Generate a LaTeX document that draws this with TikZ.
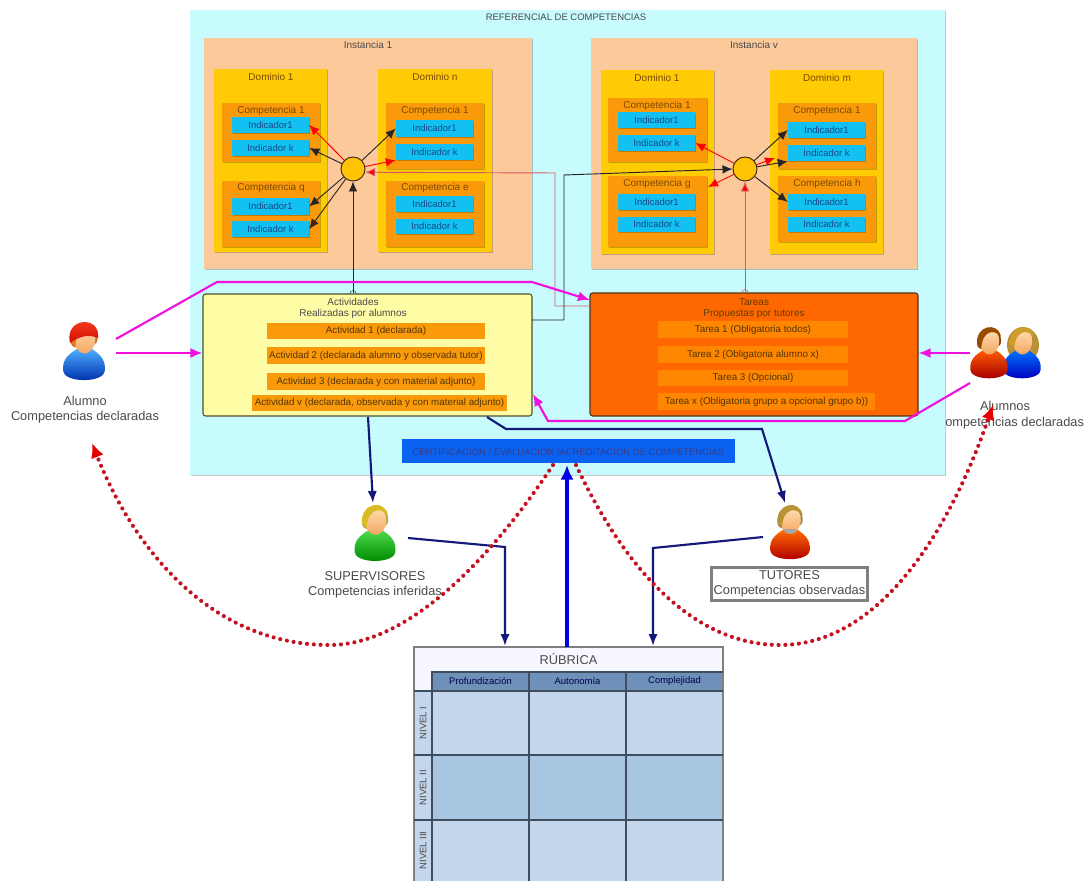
\documentclass[tikz,border=0pt]{standalone}
\usepackage{fontspec}
\setmainfont{Liberation Sans}
\usetikzlibrary{arrows.meta,calc,positioning}
\definecolor{cyanpanel}{HTML}{C8FBFD}
\definecolor{peach}{HTML}{FCC99B}
\definecolor{dominio}{HTML}{FFCB05}
\definecolor{compet}{HTML}{FA9A0A}
\definecolor{indic}{HTML}{12C0F2}
\definecolor{actbg}{HTML}{FFFCA6}
\definecolor{tarbg}{HTML}{FF6800}
\definecolor{cert}{HTML}{0A62F0}
\definecolor{magen}{HTML}{F010E0}
\definecolor{navyline}{HTML}{12197A}
\definecolor{rojopunto}{HTML}{C4101F}
\definecolor{redline}{HTML}{D85A5F}
\definecolor{txtgray}{HTML}{4A4A4A}
\definecolor{txtbrown}{HTML}{7A4B00}
\definecolor{txtblue}{HTML}{174A86}
\definecolor{hdrblue}{HTML}{6F90B8}
\definecolor{celllt}{HTML}{C4D6EC}
\definecolor{celldk}{HTML}{A9C6E0}
\definecolor{faceT}{HTML}{FFDCB0}
\definecolor{faceB}{HTML}{F4A662}
\definecolor{gridc}{HTML}{3E4E5E}
\newcommand\szI{\fontsize{7.1}{8.4}\selectfont}
\newcommand\szA{\fontsize{7.35}{8.6}\selectfont}
\newcommand\szB{\fontsize{7.5}{8.8}\selectfont}
\newcommand\szC{\fontsize{9.6}{11.4}\selectfont}
\tikzset{
  softshadow/.style={preaction={draw=none,fill=black,fill opacity=.22,transform canvas={xshift=.9pt,yshift=-.9pt}}},
  box/.style={rectangle,inner sep=0pt,align=center},
  panelbox/.style={box,fill=cyanpanel,softshadow},
  instbox/.style={box,fill=peach,softshadow},
  dombox/.style={box,fill=dominio,softshadow},
  compbox/.style={box,fill=compet,softshadow},
  indbox/.style={box,fill=indic,text=txtblue,font=\szI,softshadow},
  itembox/.style={box,fill=compet,text=txtbrown!70!black,font=\szA},
  hubdot/.style={circle,draw=black!70!brown,line width=.7pt,fill=dominio!90!orange,minimum size=18pt,inner sep=0pt},
  ttl/.style={inner sep=0pt,font=\szB,text=txtgray,align=center},
  ttlb/.style={inner sep=0pt,font=\szB,text=txtbrown},
  ppl/.style={inner sep=0pt,font=\szC,text=txtgray,align=center},
  blk/.style={-{Latex[length=7.5pt,width=6.5pt]},black!85,line width=.7pt},
  rd/.style={-{Latex[length=7.5pt,width=6.5pt]},draw=redline,line width=.7pt},
  mg/.style={-{Latex[length=9pt,width=7.5pt]},magen,line width=1.6pt},
  nv/.style={-{Latex[length=9pt,width=7pt]},navyline,line width=1.6pt},
  dots/.style={-{Latex[length=11pt,width=10pt,fill=red!90!black,color=red!90!black]},rojopunto,line width=3.1pt,line cap=round,dash pattern=on 0pt off 5.1pt},
  gridln/.style={draw=gridc,line width=.8pt},
}
% name x1 y1 x2 y2 style text
\newcommand\bx[7]{\node[#6,minimum width={(#4-#2)*0.75pt},minimum height={(#5-#3)*0.75pt}] (#1) at ({(#2+#4)/2},{(#3+#5)/2}) {#7};}
% name, x, top y, scale, body top colour, body bottom colour, hair colour
\newcommand\person[7]{%
 \begin{scope}[shift={(#2,#3)},scale=#4]
  \coordinate (#1) at (0,28);
  \fill[#7!85!black] (-13.5,20) .. controls (-18,-6) and (16,-8) .. (14,16) .. controls (14,24) and (-11,28) .. (-13.5,20) -- cycle;
  \shade[top color=#5,bottom color=#6] (-22,48) .. controls (-23,35) and (-15,30) .. (-7,25) -- (8,25) .. controls (15,30) and (23,35) .. (22,48) .. controls (22,53) and (14,58) .. (0,58) .. controls (-14,58) and (-22,53) .. (-22,48) -- cycle;
  \shade[top color=faceT,bottom color=faceB] (1,1) .. controls (9,1) and (12.5,8) .. (12,15) .. controls (11.5,24) and (6,30) .. (1,30) .. controls (-5,30) and (-10.5,24) .. (-11,15) .. controls (-11.5,8) and (-6,1) .. (1,1) -- cycle;
  \fill[#7] (-14,18) .. controls (-16,-5) and (11,-9) .. (14,9) .. controls (10,4) and (3,2) .. (-1,5) .. controls (-4,7) and (-8,10) .. (-9,22) -- cycle;
 \end{scope}}
\begin{document}
\begin{tikzpicture}[x=0.75pt,y=-0.75pt]
\useasboundingbox (0,0) rectangle (1085,881);
\fill[white] (0,0) rectangle (1085,881);
% main panel
\bx{ref}{190}{10}{945}{475}{panelbox}{}
\node[ttl,font=\szI] (reft) at (566,17) {REFERENCIAL DE COMPETENCIAS};
% instancia 1
\bx{ia}{204}{38}{532}{269}{instbox}{}
\node[ttl] (iat) at (368,45) {Instancia 1};
\bx{da}{214}{69}{327}{252}{dombox}{}
\node[ttlb] (dat) at (271,77) {Dominio 1};
\bx{dn}{378}{69}{492}{252}{dombox}{}
\node[ttlb] (dnt) at (435,77) {Dominio n};
\bx{ca}{222}{103}{320}{162}{compbox}{}
\node[ttlb] (cat) at (271,111) {Competencia 1};
\bx{caa}{232}{117}{309}{133}{indbox}{Indicador1}
\bx{cak}{232}{140}{309}{156}{indbox}{Indicador k}
\bx{cq}{222}{181}{320}{247}{compbox}{}
\node[ttlb] (cqt) at (271,188) {Competencia q};
\bx{cqa}{232}{198}{309}{215}{indbox}{Indicador1}
\bx{cqk}{232}{221}{309}{237}{indbox}{Indicador k}
\bx{cn}{386}{103}{484}{169}{compbox}{}
\node[ttlb] (cnt) at (435,111) {Competencia 1};
\bx{cna}{396}{120}{473}{137}{indbox}{Indicador1}
\bx{cnk}{396}{144}{473}{160}{indbox}{Indicador k}
\bx{ce}{386}{181}{484}{247}{compbox}{}
\node[ttlb] (cet) at (435,188) {Competencia e};
\bx{cea}{396}{196}{473}{212}{indbox}{Indicador1}
\bx{cek}{396}{219}{473}{234}{indbox}{Indicador k}
% instancia v
\bx{iv}{591}{38}{917}{269}{instbox}{}
\node[ttl] (ivt) at (754,45) {Instancia v};
\bx{dv}{601}{70}{714}{254}{dombox}{}
\node[ttlb] (dvt) at (657,78) {Dominio 1};
\bx{dm}{770}{70}{883}{254}{dombox}{}
\node[ttlb] (dmt) at (827,78) {Dominio m};
\bx{va}{608}{98}{707}{162}{compbox}{}
\node[ttlb] (vat) at (657,106) {Competencia 1};
\bx{vaa}{618}{112}{695}{128}{indbox}{Indicador1}
\bx{vak}{618}{135}{695}{151}{indbox}{Indicador k}
\bx{vg}{608}{176}{707}{247}{compbox}{}
\node[ttlb] (vgt) at (657,184) {Competencia g};
\bx{vga}{618}{194}{695}{210}{indbox}{Indicador1}
\bx{vgk}{618}{217}{695}{232}{indbox}{Indicador k}
\bx{vm}{778}{103}{876}{169}{compbox}{}
\node[ttlb] (vmt) at (827,111) {Competencia 1};
\bx{vma}{788}{122}{865}{138}{indbox}{Indicador1}
\bx{vmk}{788}{145}{865}{161}{indbox}{Indicador k}
\bx{vh}{778}{176}{876}{242}{compbox}{}
\node[ttlb] (vht) at (827,184) {Competencia h};
\bx{vha}{788}{194}{865}{210}{indbox}{Indicador1}
\bx{vhk}{788}{217}{865}{232}{indbox}{Indicador k}
% hubs
\node[hubdot] (hubA) at (353,169) {};
\node[hubdot] (hubB) at (745,169) {};
% activity and task boxes
\node[box,draw=black!55!olive,line width=.8pt,fill=actbg,rounded corners=2pt,minimum width={329*0.75pt},minimum height={122*0.75pt}] (act) at (367.5,355) {};
\node[ttl] (actt) at (353,308.5) {Actividades\\[-1pt]Realizadas por alumnos};
\node[box,draw=black!60!brown,line width=.8pt,fill=tarbg,rounded corners=2pt,minimum width={328*0.75pt},minimum height={123*0.75pt}] (tar) at (754,354.5) {};
\node[ttl,text=txtbrown!80!black] (tart) at (754,308.5) {Tareas\\[-1pt]Propuestas por tutores};
\bx{a1}{267}{323}{485}{339}{itembox}{Actividad 1 (declarada)}
\bx{a2}{267}{347}{485}{364}{itembox}{Actividad 2 (declarada alumno y observada tutor)}
\bx{a3}{267}{373}{485}{390}{itembox}{Actividad 3 (declarada y con material adjunto)}
\bx{a4}{252}{395}{507}{411}{itembox}{Actividad v (declarada, observada y con material adjunto)}
\tikzset{tarit/.style={box,fill=orange!95!yellow,text=txtbrown!70!black,font=\szA}}
\bx{t1}{658}{321}{848}{338}{tarit}{Tarea 1 (Obligatoria todos)}
\bx{t2}{658}{346}{848}{363}{tarit}{Tarea 2 (Obligatoria alumno x)}
\bx{t3}{658}{370}{848}{386}{tarit}{Tarea 3 (Opcional)}
\bx{t4}{658}{393}{875}{410}{tarit}{Tarea x (Obligatoria grupo a opcional grupo b))}
\bx{cer}{402}{439}{735}{463}{box,fill=cert,text=navyline!85!white,font=\szI}{CERTIFICACIÓN / EVALUACIÓN /ACREDITACIÓN DE COMPETENCIAS}
% rubrica
\fill[white!90!blue!30] (414,647) rectangle (723,691);
\bx{rub}{414}{647}{723}{672}{box,font=\szC,text=txtgray}{RÚBRICA}
\bx{h1}{432}{672}{529}{691}{box,fill=hdrblue,font=\szI,text=black!70!blue}{Profundización}
\bx{h2}{529}{672}{626}{691}{box,fill=hdrblue,font=\szI,text=black!70!blue}{Autonomía}
\bx{h3}{626}{672}{723}{691}{box,fill=hdrblue,font=\szI,text=black!70!blue}{Complejidad}
\bx{r1}{414}{691}{432}{755}{box,fill=celllt}{}
\bx{r2}{414}{755}{432}{820}{box,fill=celllt}{}
\bx{r3}{414}{820}{432}{881}{box,fill=celllt}{}
\node[ttl,font=\szI,rotate=90] (r1t) at (r1) {NIVEL I};
\node[ttl,font=\szI,rotate=90] (r2t) at (r2) {NIVEL II};
\node[ttl,font=\szI,rotate=90] (r3t) at (r3) {NIVEL III};
\foreach \cx/\cxb/\nm in {432/529/a,529/626/b,626/723/c}{
  \fill[celllt] (\cx,691) rectangle (\cxb,755);
  \fill[celldk] (\cx,755) rectangle (\cxb,820);
  \fill[celllt] (\cx,820) rectangle (\cxb,881);
}
\draw[gridln,black!50] (414,881) -- (414,647) -- (723,647) -- (723,881);
\draw[gridln] (432,881) -- (432,672) -- (723,672);
\draw[gridln] (414,691) -- (723,691) (414,755) -- (723,755) (414,820) -- (723,820);
\draw[gridln] (529,672) -- (529,881) (626,672) -- (626,881);
% people
\person{alumnoIcon}{84}{325}{.95}{blue!45!cyan!70!white}{blue!60!black!80!cyan}{orange!60!brown}
\shade[top color=red!70!orange!85!white,bottom color=red!80!black!90!orange] (70,343) .. controls (64,317) and (101,315) .. (98,338) .. controls (88,334) and (80,336) .. (70,343) -- cycle;
\person{supIcon}{375}{507}{.93}{green!65!white!85!black}{green!55!black}{yellow!70!orange!85!black}
\person{tutIcon}{790}{507}{.9}{orange!85!red}{red!70!black}{yellow!45!orange!70!black}
\fill[black!35!white] (784,531) .. controls (787,535) and (793,535) .. (796,531) -- (796,529) -- (784,529) -- cycle;
\fill[yellow!40!orange!70!black] (1023,345) ellipse [x radius=16,y radius=18];
\person{aliceIcon}{1022}{329}{.85}{blue!55!cyan}{blue!75!black}{yellow!40!orange!80!black}
\person{bobIcon}{989}{329}{.85}{orange!70!red}{red!65!black}{orange!60!black}
\node[ppl] (alumnoT) at (85,410) {Alumno\\Competencias declaradas};
\node[ppl] (supT) at (375,585) {SUPERVISORES\\Competencias inferidas};
\node[ppl,draw=black!50,line width=1.7pt,minimum width={156*0.75pt},minimum height={33*0.75pt}] (tutT) at (789.5,584) {TUTORES\\Competencias observadas};
\node[ppl,anchor=north] (alumnosA) at (1005,401) {Alumnos};
\node[ppl,anchor=north west] (alumnosB) at (945,417) {ompetencias declaradas};
% connectors in instancia 1
\draw[rd,red] (hubA) -- (caa.east);
\draw[blk] (hubA) -- (cak.east);
\draw[blk] (hubA) -- (cqa.east);
\draw[blk,black!70!brown] (hubA) -- (cqk.east);
\draw[blk] (hubA) -- (cna.west);
\draw[rd,red] (hubA) -- (cnk.south west);
\draw[blk] (act.north -| hubA) -- (hubA);
\draw[black!70] ($(act.north -| hubA)+(-3,0)$) arc[start angle=180,end angle=360,radius=3];
% connectors in instancia v
\coordinate (vgin) at (708,187);
\coordinate (vmkin) at (775,158);
\draw[rd,red] (hubB) -- (vak.east);
\draw[rd,red] (hubB) -- (vgin);
\draw[blk] (hubB) -- (vma.west);
\draw[rd,red] (hubB) -- (vmkin);
\draw[blk] (hubB) -- (vmk.south west);
\draw[blk] (hubB) -- (vha.west);
\draw[rd,draw=redline,-{Latex[length=7.5pt,width=6.5pt,fill=red]}] (tar.north -| hubB) -- (hubB);
\draw[redline] ($(tar.north -| hubB)+(-3,0)$) arc[start angle=180,end angle=360,radius=3];
% long elbows
\coordinate (rdS) at (590,306);
\coordinate (rdA) at (555,306);
\coordinate (rdB) at (555,173);
\draw[rd,draw=redline,-{Latex[length=7.5pt,width=6.5pt,fill=red]}] (rdS) -- (rdA) -- (rdB) -- (hubA.-15);
\coordinate (bkS) at (532,320);
\coordinate (bkA) at (564,320);
\coordinate (bkB) at (564,175);
\draw[blk] (bkS) -- (bkA) -- (bkB) -- (hubB.west);
% magenta
\coordinate (mA) at (116,339);
\coordinate (mB) at (217,282);
\coordinate (mC) at (532,282);
\coordinate (mD) at (590,300);
\draw[mg] (mA) -- (mB) -- (mC) -- (mD);
\coordinate (mE) at (116,353);
\draw[mg] (mE) -- (mE -| act.west);
\coordinate (mF) at (970,353);
\draw[mg] (mF) -- (mF -| tar.east);
\coordinate (mG) at (970,383);
\coordinate (mH) at (905,421);
\coordinate (mI) at (548,421);
\coordinate (mJ) at (533,394);
\draw[mg] (mG) -- (mH) -- (mI) -- (mJ);
% navy
\coordinate (nA) at (368,417);
\coordinate (nB) at (373,503);
\draw[nv] (nA) -- (nB);
\coordinate (nC) at (487,417);
\coordinate (nD) at (506,429);
\coordinate (nE) at (762,429);
\coordinate (nF) at (785,503);
\draw[nv] (nC) -- (nD) -- (nE) -- (nF);
\coordinate (nG) at (408,538);
\coordinate (nH) at (505,547);
\coordinate (nI) at (505,646);
\draw[nv] (nG) -- (nH) -- (nI);
\coordinate (nJ) at (763,537);
\coordinate (nK) at (653,548);
\coordinate (nL) at (653,646);
\draw[nv] (nJ) -- (nK) -- (nL);
\coordinate (blueEnd) at (567,465);
\draw[-{Latex[length=11pt,width=10pt]},blue!90!black,line width=3.5pt] (rub.north -| blueEnd) -- (blueEnd);
% red dotted
\coordinate (dA) at (553,465);
\coordinate (dB) at (330,645);
\coordinate (dC) at (92,443);
\draw[dots] (dA) .. controls (480,575) and (400,645) .. (dB) .. controls (205,645) and (130,540) .. (dC);
\coordinate (dD) at (576,465);
\coordinate (dE) at (780,645);
\coordinate (dF) at (993,405);
\draw[dots] (dD) .. controls (630,580) and (700,645) .. (dE) .. controls (880,645) and (950,530) .. (dF);
\end{tikzpicture}
\end{document}
